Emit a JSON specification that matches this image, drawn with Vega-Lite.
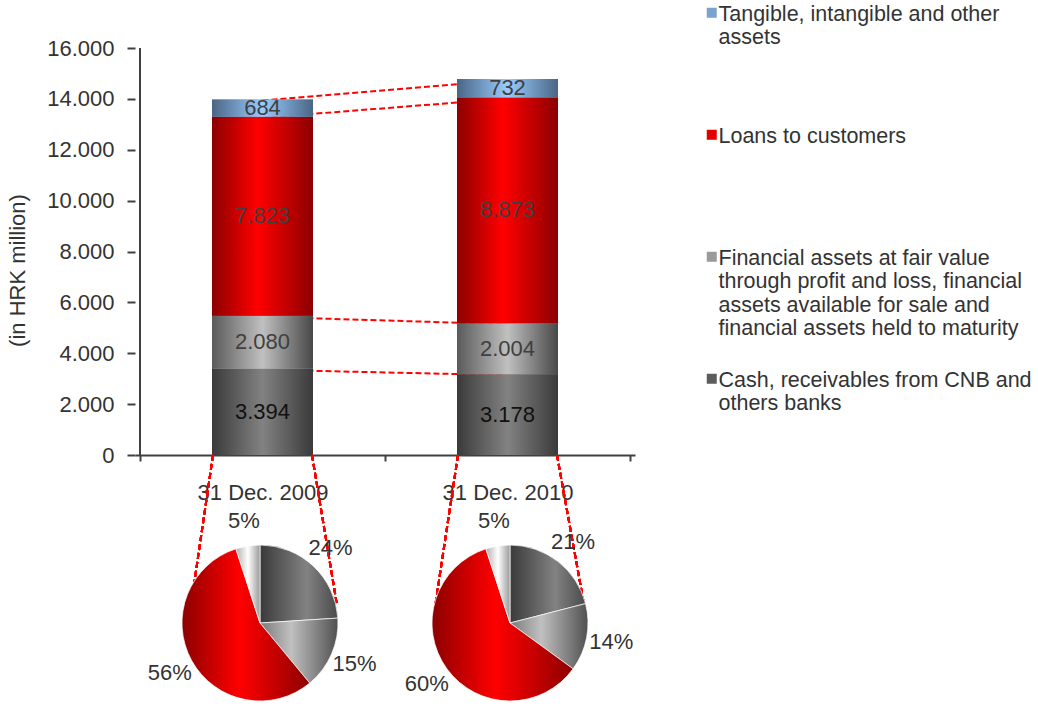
{
  "$schema": "https://vega.github.io/schema/vega-lite/v6.json",
  "padding": {"left": 6, "top": 0, "right": 0, "bottom": 0},
  "background": "white",
  "config": {
    "font": "Liberation Sans",
    "view": {"stroke": null},
    "locale": {"number": {"decimal": ",", "thousands": ".", "grouping": [3], "currency": ["", " kn"]}},
    "axis": {"grid": false, "labelFont": "Liberation Sans", "titleFont": "Liberation Sans"},
    "legend": {"labelFont": "Liberation Sans"},
    "text": {"font": "Liberation Sans"}
  },
  "datasets": {
    "bars": [
      {"date": "31 Dec. 2009", "year": 2009, "rank": 1, "category": "Cash, receivables from CNB and others banks", "value": 3394},
      {"date": "31 Dec. 2009", "year": 2009, "rank": 2, "category": "Financial assets at fair value through profit and loss, financial assets available for sale and financial assets held to maturity", "value": 2080},
      {"date": "31 Dec. 2009", "year": 2009, "rank": 3, "category": "Loans to customers", "value": 7823},
      {"date": "31 Dec. 2009", "year": 2009, "rank": 4, "category": "Tangible, intangible and other assets", "value": 684},
      {"date": "31 Dec. 2010", "year": 2010, "rank": 1, "category": "Cash, receivables from CNB and others banks", "value": 3178},
      {"date": "31 Dec. 2010", "year": 2010, "rank": 2, "category": "Financial assets at fair value through profit and loss, financial assets available for sale and financial assets held to maturity", "value": 2004},
      {"date": "31 Dec. 2010", "year": 2010, "rank": 3, "category": "Loans to customers", "value": 8873},
      {"date": "31 Dec. 2010", "year": 2010, "rank": 4, "category": "Tangible, intangible and other assets", "value": 732}
    ],
    "pies": [
      {"date": "31 Dec. 2009", "rank": 1, "category": "Cash, receivables from CNB and others banks", "share": 0.24},
      {"date": "31 Dec. 2009", "rank": 2, "category": "Financial assets at fair value through profit and loss, financial assets available for sale and financial assets held to maturity", "share": 0.15},
      {"date": "31 Dec. 2009", "rank": 3, "category": "Loans to customers", "share": 0.56},
      {"date": "31 Dec. 2009", "rank": 4, "category": "Tangible, intangible and other assets", "share": 0.05},
      {"date": "31 Dec. 2010", "rank": 1, "category": "Cash, receivables from CNB and others banks", "share": 0.21},
      {"date": "31 Dec. 2010", "rank": 2, "category": "Financial assets at fair value through profit and loss, financial assets available for sale and financial assets held to maturity", "share": 0.14},
      {"date": "31 Dec. 2010", "rank": 3, "category": "Loans to customers", "share": 0.60},
      {"date": "31 Dec. 2010", "rank": 4, "category": "Tangible, intangible and other assets", "share": 0.05}
    ]
  },
  "bounds": "flush",
  "spacing": 83,
  "vconcat": [
    {
      "width": 500,
      "height": 455,
      "data": {"name": "bars"},
      "layer": [
        {
          "mark": {"type": "bar", "size": 101},
          "encoding": {
            "x": {
              "field": "year", "type": "quantitative",
              "scale": {"domain": [2008.5, 2010.5], "nice": false, "zero": false},
              "axis": {
                "title": null,
                "values": [2008.5, 2009, 2009.5, 2010, 2010.5],
                "labelExpr": "datum.value == 2009 ? '31 Dec. 2009' : datum.value == 2010 ? '31 Dec. 2010' : ''",
                "tickOpacity": {"condition": {"test": "datum.value == 2009 || datum.value == 2010", "value": 0}, "value": 1},
                "domainColor": "#404040", "domainWidth": 2,
                "tickColor": "#404040", "tickWidth": 2, "tickSize": 6,
                "labelFontSize": 22, "labelColor": "#333333", "labelPadding": 21,
                "labelFlush": false, "labelOverlap": false
              }
            },
            "y": {
              "field": "value", "type": "quantitative", "stack": "zero",
              "scale": {"domain": [0, 17890], "nice": false, "zero": false},
              "axis": {
                "title": "(in HRK million)",
                "titleFontSize": 22, "titleFontWeight": "normal", "titleColor": "#333333",
                "titleX": -106, "titleY": 270,
                "values": [0, 2000, 4000, 6000, 8000, 10000, 12000, 14000, 16000],
                "format": ",d",
                "domain": false,
                "tickSize": 8, "tickWidth": 2, "tickColor": "#404040",
                "labelFontSize": 22, "labelColor": "#333333", "labelPadding": 13
              }
            },
            "color": {
              "field": "category", "type": "nominal",
              "scale": {
                "domain": [
                  "Tangible, intangible and other assets",
                  "Loans to customers",
                  "Financial assets at fair value through profit and loss, financial assets available for sale and financial assets held to maturity",
                  "Cash, receivables from CNB and others banks"
                ],
                "range": ["#79a3cf", "#e00000", "#9a9a9a", "#5c5c5c"]
              },
              "legend": {
                "orient": "none", "legendX": 566, "legendY": 10,
                "title": null,
                "labelFontSize": 21.5, "labelColor": "#333333", "labelLimit": 0,
                "symbolType": "M-1,-2.6L1,-2.6L1,-0.6L-1,-0.6Z", "symbolSize": 100, "symbolStrokeWidth": 0,
                "labelBaseline": "alphabetic", "labelOffset": -4, "rowPadding": 29,
                "labelExpr": "datum.label == 'Tangible, intangible and other assets' ? ['Tangible, intangible and other', 'assets', '', ''] : datum.label == 'Loans to customers' ? ['Loans to customers', '', '', ''] : datum.label == 'Cash, receivables from CNB and others banks' ? ['Cash, receivables from CNB and', 'others banks'] : ['Financial assets at fair value', 'through profit and loss, financial', 'assets available for sale and', 'financial assets held to maturity']"
              }
            },
            "order": {"field": "rank", "type": "quantitative"}
          }
        },
        {
          "mark": {"type": "line", "color": "#ff0000", "strokeWidth": 2, "strokeDash": [6, 3], "yOffset": 1},
          "encoding": {
            "x": {"field": "year", "type": "quantitative"},
            "y": {"field": "value", "type": "quantitative", "stack": "zero"},
            "detail": {"field": "category"},
            "order": {"field": "rank", "type": "quantitative"}
          }
        },
        {
          "mark": {"type": "bar", "size": 101},
          "encoding": {
            "x": {"field": "year", "type": "quantitative"},
            "y": {"field": "value", "type": "quantitative", "stack": "zero"},
            "detail": {"field": "category"},
            "fill": {
              "condition": [
                {"test": "datum.rank == 4", "value": {"gradient": "linear", "x1": 0, "y1": 0, "x2": 1, "y2": 0, "stops": [{"offset": 0, "color": "#4a6585"}, {"offset": 0.5, "color": "#99ccff"}, {"offset": 1, "color": "#4a6585"}]}},
                {"test": "datum.rank == 3", "value": {"gradient": "linear", "x1": 0, "y1": 0, "x2": 1, "y2": 0, "stops": [{"offset": 0, "color": "#8c0000"}, {"offset": 0.45, "color": "#ff0000"}, {"offset": 1, "color": "#8c0000"}]}},
                {"test": "datum.rank == 2", "value": {"gradient": "linear", "x1": 0, "y1": 0, "x2": 1, "y2": 0, "stops": [{"offset": 0, "color": "#5a5a5a"}, {"offset": 0.5, "color": "#c0c0c0"}, {"offset": 1, "color": "#484848"}]}}
              ],
              "value": {"gradient": "linear", "x1": 0, "y1": 0, "x2": 1, "y2": 0, "stops": [{"offset": 0, "color": "#3a3a3a"}, {"offset": 0.5, "color": "#828282"}, {"offset": 1, "color": "#3a3a3a"}]}
            },
            "order": {"field": "rank", "type": "quantitative"}
          }
        },
        {
          "mark": {"type": "text", "fontSize": 22, "baseline": "middle", "align": "center"},
          "encoding": {
            "x": {"field": "year", "type": "quantitative"},
            "y": {"field": "value", "type": "quantitative", "stack": "zero", "bandPosition": 0.5},
            "detail": {"field": "category"},
            "order": {"field": "rank", "type": "quantitative"},
            "text": {"field": "value", "type": "quantitative", "format": ",d"},
            "color": {"condition": {"test": "datum.rank == 1", "value": "#111111"}, "value": "#404040"}
          }
        },
        {
          "mark": {"type": "rule", "color": "#404040", "strokeWidth": 2},
          "encoding": {
            "x": {"datum": 2008.5, "type": "quantitative"},
            "y": {"datum": 0, "type": "quantitative"},
            "y2": {"datum": 16000}
          }
        },
        {
          "mark": {"type": "rule", "color": "#ff0000", "strokeWidth": 2, "strokeDash": [6, 3]},
          "encoding": {
            "x": {"datum": 2008.798, "type": "quantitative"},
            "y": {"datum": 0, "type": "quantitative"},
            "x2": {"datum": 2008.704},
            "y2": {"datum": -6173}
          }
        },
        {
          "mark": {"type": "rule", "color": "#ff0000", "strokeWidth": 2, "strokeDash": [6, 3]},
          "encoding": {
            "x": {"datum": 2009.202, "type": "quantitative"},
            "y": {"datum": 0, "type": "quantitative"},
            "x2": {"datum": 2009.304},
            "y2": {"datum": -5898}
          }
        },
        {
          "mark": {"type": "rule", "color": "#ff0000", "strokeWidth": 2, "strokeDash": [6, 3]},
          "encoding": {
            "x": {"datum": 2009.798, "type": "quantitative"},
            "y": {"datum": 0, "type": "quantitative"},
            "x2": {"datum": 2009.704},
            "y2": {"datum": -5976}
          }
        },
        {
          "mark": {"type": "rule", "color": "#ff0000", "strokeWidth": 2, "strokeDash": [6, 3]},
          "encoding": {
            "x": {"datum": 2010.202, "type": "quantitative"},
            "y": {"datum": 0, "type": "quantitative"},
            "x2": {"datum": 2010.312},
            "y2": {"datum": -5859}
          }
        }
      ]
    },
    {
      "data": {"name": "pies"},
      "facet": {"column": {"field": "date", "type": "nominal", "header": {"labels": false, "title": null}}},
      "spacing": 0,
      "spec": {
        "width": 250,
        "height": 170,
        "layer": [
          {
            "mark": {"type": "arc", "outerRadius": 78, "stroke": "#ffffff", "strokeWidth": 0.7},
            "encoding": {
              "theta": {"field": "share", "type": "quantitative", "stack": true},
              "detail": {"field": "category"},
              "fill": {
                "condition": [
                  {"test": "datum.rank == 4", "value": {"gradient": "linear", "x1": 0, "y1": 0, "x2": 1, "y2": 0, "stops": [{"offset": 0, "color": "#b0b0b0"}, {"offset": 0.5, "color": "#ffffff"}, {"offset": 1, "color": "#9a9a9a"}]}},
                  {"test": "datum.rank == 3", "value": {"gradient": "linear", "x1": 0, "y1": 0, "x2": 1, "y2": 0, "stops": [{"offset": 0, "color": "#8c0000"}, {"offset": 0.45, "color": "#ff0000"}, {"offset": 1, "color": "#8c0000"}]}},
                  {"test": "datum.rank == 2", "value": {"gradient": "linear", "x1": 0, "y1": 0, "x2": 1, "y2": 0, "stops": [{"offset": 0, "color": "#7a7a7a"}, {"offset": 0.4, "color": "#c0c0c0"}, {"offset": 1, "color": "#505050"}]}}
                ],
                "value": {"gradient": "linear", "x1": 0, "y1": 0, "x2": 1, "y2": 0, "stops": [{"offset": 0, "color": "#3a3a3a"}, {"offset": 0.6, "color": "#828282"}, {"offset": 1, "color": "#4a4a4a"}]}
              },
              "order": {"field": "rank", "type": "quantitative"}
            }
          },
          {
            "mark": {"type": "text", "radius": 103, "fontSize": 22, "color": "#333333"},
            "encoding": {
              "theta": {"field": "share", "type": "quantitative", "stack": true},
              "text": {"field": "share", "type": "quantitative", "format": ".0%"},
              "detail": {"field": "category"},
              "order": {"field": "rank", "type": "quantitative"}
            }
          }
        ]
      }
    }
  ]
}
